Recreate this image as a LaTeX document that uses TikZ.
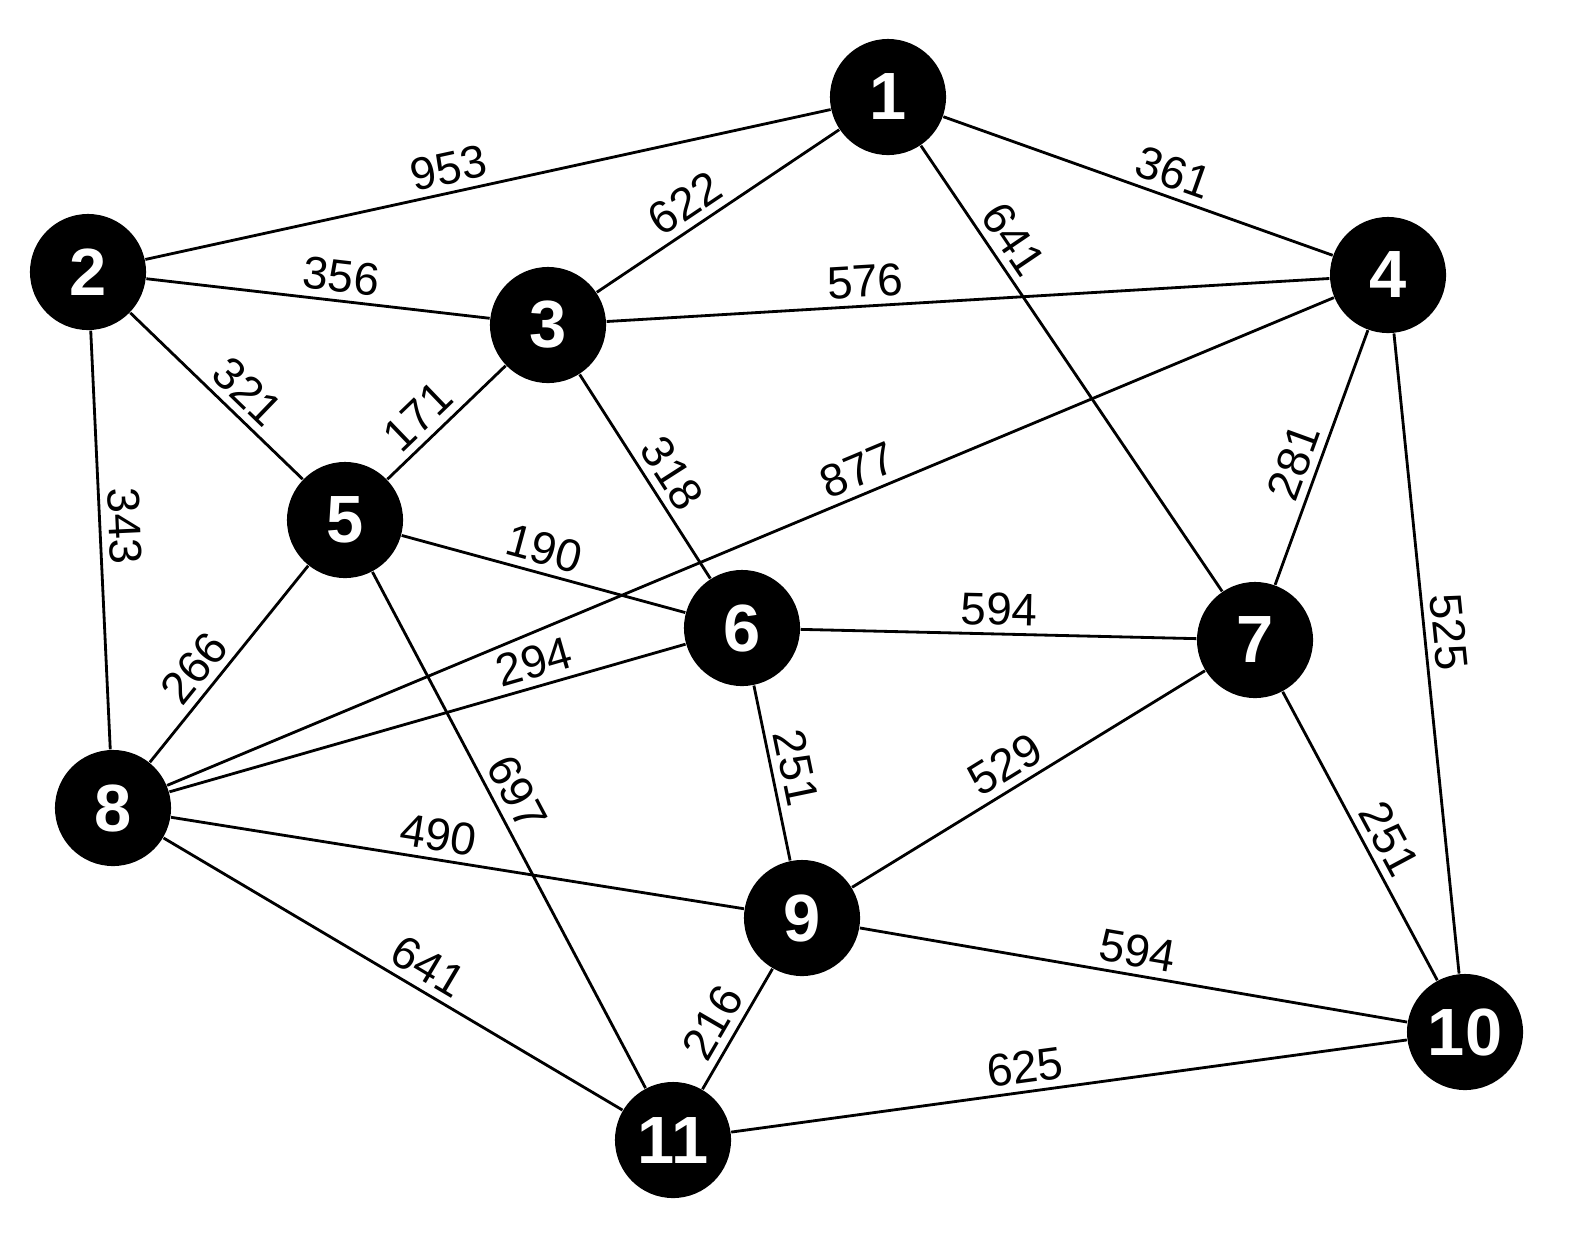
\documentclass[tikz,border=0pt]{standalone}
\usepackage{fontspec}
\setmainfont{Liberation Sans}
\begin{document}
\begin{tikzpicture}[x=0.01cm,y=-0.01cm,
  vtx/.style={circle,fill=black,minimum size=1.16cm,inner sep=0pt,text=white,font=\bfseries\fontsize{19}{19}\selectfont},
  edge/.style={draw,line width=0.8pt},
  wt/.style={sloped,above,inner sep=2pt,font=\fontsize{13}{13}\selectfont}]
\useasboundingbox (0,0) rectangle (1573,1242);
\node[vtx] (n1) at (888,97) {1};
\node[vtx] (n2) at (88,272) {2};
\node[vtx] (n3) at (548,325) {3};
\node[vtx] (n4) at (1388,275) {4};
\node[vtx] (n5) at (345,520) {5};
\node[vtx] (n6) at (742,628) {6};
\node[vtx] (n7) at (1255,640) {7};
\node[vtx] (n8) at (113,808) {8};
\node[vtx] (n9) at (802,918) {9};
\node[vtx] (n10) at (1465,1032) {10};
\node[vtx] (n11) at (673,1140) {11};
\path[edge] (n2) -- node[wt,pos=0.45]{953} (n1);
\path[edge] (n1) -- node[wt,pos=0.58]{622} (n3);
\path[edge] (n1) -- node[wt,pos=0.57]{361} (n4);
\path[edge] (n1) -- node[wt,pos=0.24]{641} (n7);
\path[edge] (n2) -- node[wt,pos=0.56]{356} (n3);
\path[edge] (n3) -- node[wt,pos=0.36]{576} (n4);
\path[edge] (n2) -- node[wt,pos=0.58]{321} (n5);
\path[edge] (n2) -- node[wt,pos=0.47]{343} (n8);
\path[edge] (n5) -- node[wt,pos=0.4]{171} (n3);
\path[edge] (n3) -- node[wt,pos=0.55]{318} (n6);
\path[edge] (n8) -- node[wt,pos=0.6]{877} (n4);
\path[edge] (n7) -- node[wt,pos=0.45]{281} (n4);
\path[edge] (n4) -- node[wt,pos=0.47]{525} (n10);
\path[edge] (n5) -- node[wt,pos=0.48]{190} (n6);
\path[edge] (n8) -- node[wt,pos=0.4]{266} (n5);
\path[edge] (n5) -- node[wt,pos=0.45]{697} (n11);
\path[edge] (n6) -- node[wt,pos=0.5]{594} (n7);
\path[edge] (n8) -- node[wt,pos=0.72]{294} (n6);
\path[edge] (n6) -- node[wt,pos=0.5]{251} (n9);
\path[edge] (n9) -- node[wt,pos=0.47]{529} (n7);
\path[edge] (n7) -- node[wt,pos=0.55]{251} (n10);
\path[edge] (n8) -- node[wt,pos=0.46]{490} (n9);
\path[edge] (n8) -- node[wt,pos=0.55]{641} (n11);
\path[edge] (n9) -- node[wt,pos=0.5]{594} (n10);
\path[edge] (n11) -- node[wt,pos=0.45]{216} (n9);
\path[edge] (n11) -- node[wt,pos=0.44]{625} (n10);
\end{tikzpicture}
\end{document}
